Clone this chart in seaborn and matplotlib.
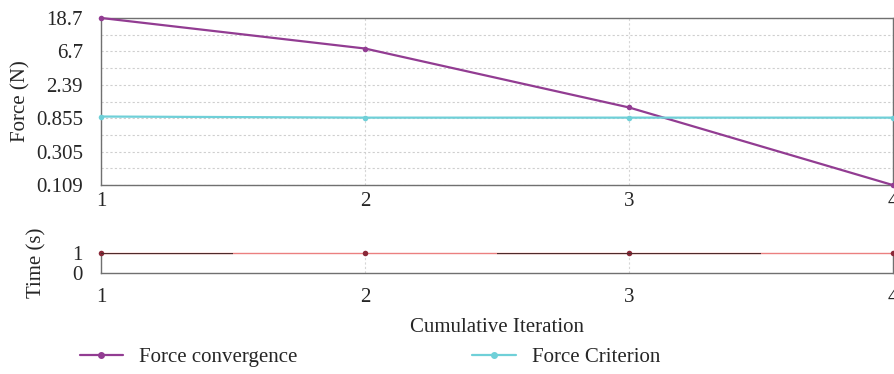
import numpy as np
import pandas as pd
import seaborn as sns
import matplotlib
matplotlib.use('Agg')
import matplotlib.pyplot as plt
from matplotlib.lines import Line2D

# data
iterations = [1, 2, 3, 4]
force_convergence = [18.7, 7.3, 1.19, 0.109]
force_criterion = [0.90, 0.87, 0.87, 0.87]
time_values = [1, 1, 1, 1]
time_dark_start = [1.0, 2.5]
time_dark_end = [1.5, 3.5]
force_ticks = [0.109, 0.305, 0.855, 2.39, 6.7, 18.7]
force_tick_labels = ['0.109', '0.305', '0.855', '2.39', '6.7', '18.7']

sns.set_theme(style='white')
plt.rcParams['font.family'] = ['Liberation Serif', 'DejaVu Serif']

purple = '#923c92'
cyan = '#6fd0d8'
fs = 15

df = pd.DataFrame({'iter': iterations * 2,
                   'force': force_convergence + force_criterion,
                   'series': ['Force convergence'] * 4 + ['Force Criterion'] * 4})

fig = plt.figure(figsize=(8.95, 3.74), dpi=100)
ax1 = fig.add_axes([0.1128, 0.505, 0.885, 0.447])
ax2 = fig.add_axes([0.1128, 0.270, 0.885, 0.0535])

sns.lineplot(data=df, x='iter', y='force', hue='series',
             palette={'Force convergence': purple, 'Force Criterion': cyan},
             marker='o', markersize=4, markeredgewidth=0, linewidth=1.6,
             legend=False, ax=ax1, zorder=3, clip_on=False)
ax1.set_yscale('log')
ax1.set_ylim(force_ticks[0], force_ticks[-1])
ax1.set_xlim(1, 4)
ax1.set_yticks(force_ticks)
ax1.set_yticklabels(force_tick_labels)
minor = [np.sqrt(a * b) for a, b in zip(force_ticks[:-1], force_ticks[1:])]
ax1.set_yticks(minor, minor=True)
ax1.yaxis.set_minor_formatter(matplotlib.ticker.NullFormatter())
ax1.set_xticks(iterations)
ax1.set_xticklabels([str(i) for i in iterations])
ax1.grid(True, which='both', axis='y', linestyle=(0, (2, 2)), color='#cfcfcf', linewidth=0.8)
ax1.grid(True, which='major', axis='x', linestyle=(0, (2, 2)), color='#d6d6d6', linewidth=0.8)
ax1.set_xlabel('')
ax1.set_ylabel('Force (N)', fontsize=fs, labelpad=4)
ax1.tick_params(axis='y', labelsize=fs, length=0, pad=13)
ax1.tick_params(axis='x', labelsize=fs, length=0, pad=5)
ax1.tick_params(axis='y', which='minor', length=0)
for s in ax1.spines.values():
    s.set_color('#707070')
    s.set_linewidth(1.0)

# time panel
sns.lineplot(x=iterations, y=time_values, color='#eb8080', linewidth=1.0,
             marker='o', markersize=4, markerfacecolor='#8a2838',
             markeredgewidth=0, ax=ax2, clip_on=False, zorder=3)
ax2.hlines([1] * len(time_dark_start), time_dark_start, time_dark_end,
           color='#4e2a2a', linewidth=1.6, zorder=4)
ax2.set_xlim(1, 4)
ax2.set_ylim(0, 1)
ax2.set_yticks([0, 1])
ax2.set_yticklabels(['0', '1'])
ax2.set_xticks(iterations)
ax2.set_xticklabels([str(i) for i in iterations])
ax2.grid(True, axis='x', linestyle=(0, (2, 2)), color='#d6d6d6', linewidth=0.8)
ax2.set_ylabel('Time (s)', fontsize=fs, labelpad=19)
ax2.set_xlabel('Cumulative Iteration', fontsize=fs, labelpad=8)
ax2.tick_params(axis='y', labelsize=fs, length=0, pad=13)
ax2.tick_params(axis='x', labelsize=fs, length=0, pad=11)
ax2.spines['top'].set_visible(False)
for s in ['left', 'right', 'bottom']:
    ax2.spines[s].set_color('#707070')
    ax2.spines[s].set_linewidth(1.0)

handles = [Line2D([], [], color=purple, marker='o', markersize=4, linewidth=1.6),
           Line2D([], [], color=cyan, marker='o', markersize=4, linewidth=1.6)]
fig.legend(handles, ['Force convergence', 'Force Criterion'],
           loc='center left', bbox_to_anchor=(0.068, 0.044), ncol=2, frameon=False,
           fontsize=fs, handlelength=2.1, handletextpad=0.75, columnspacing=8.4)

fig.savefig('out.png', dpi=100)
